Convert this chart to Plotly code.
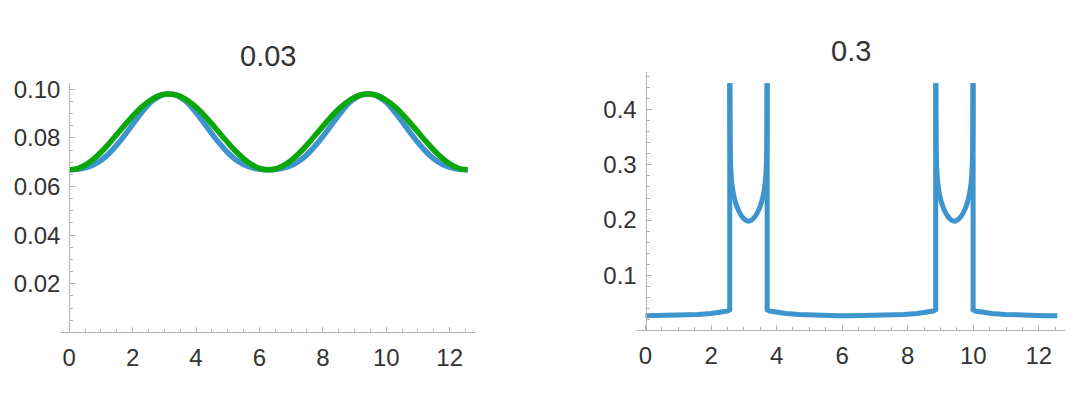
import plotly.graph_objects as go

# ---------------- data ----------------
# left panel "0.03": two periodic curves on [0, 4*pi]
x_left = [0.0, 0.262, 0.524, 0.785, 1.047, 1.309, 1.571, 1.833, 2.094, 2.356, 2.618, 2.880,
          3.142, 3.403, 3.665, 3.927, 4.189, 4.451, 4.712, 4.974, 5.236, 5.498, 5.760, 6.021,
          6.283, 6.545, 6.807, 7.069, 7.330, 7.592, 7.854, 8.116, 8.378, 8.639, 8.901, 9.163,
          9.425, 9.687, 9.948, 10.210, 10.472, 10.734, 10.996, 11.257, 11.519, 11.781, 12.043,
          12.305, 12.566]
blue_left = [0.0669, 0.0671, 0.0678, 0.0691, 0.0712, 0.0743, 0.0782, 0.0826, 0.0872, 0.0916, 0.0952, 0.0974,
             0.0981, 0.0974, 0.0952, 0.0916, 0.0872, 0.0826, 0.0782, 0.0743, 0.0712, 0.0691, 0.0678, 0.0671,
             0.0669, 0.0671, 0.0678, 0.0691, 0.0712, 0.0743, 0.0782, 0.0826, 0.0872, 0.0916, 0.0952, 0.0974,
             0.0981, 0.0974, 0.0952, 0.0916, 0.0872, 0.0826, 0.0782, 0.0743, 0.0712, 0.0691, 0.0678,
             0.0671, 0.0669]
green_left = [0.0669, 0.0674, 0.0690, 0.0715, 0.0747, 0.0785, 0.0825, 0.0865, 0.0903, 0.0935, 0.0960, 0.0976,
              0.0981, 0.0976, 0.0960, 0.0935, 0.0903, 0.0865, 0.0825, 0.0785, 0.0747, 0.0715, 0.0690, 0.0674,
              0.0669, 0.0674, 0.0690, 0.0715, 0.0747, 0.0785, 0.0825, 0.0865, 0.0903, 0.0935, 0.0960, 0.0976,
              0.0981, 0.0976, 0.0960, 0.0935, 0.0903, 0.0865, 0.0825, 0.0785, 0.0747, 0.0715, 0.0690,
              0.0674, 0.0669]

# right panel "0.3": outer branches + vertical jumps (clipped at plot top), None = break
x_right_outer = [0.0, 0.4, 0.8, 1.2, 1.6, 2.0, 2.3, 2.5, 2.570, 2.570, None,
                 3.712, 3.712, 3.783, 3.983, 4.283, 4.683, 5.083, 5.483, 5.883, 6.283, 6.683, 7.083,
                 7.483, 7.883, 8.283, 8.583, 8.783, 8.855, 8.855, None,
                 9.996, 9.996, 10.066, 10.266, 10.566, 10.966, 11.366, 11.766, 12.166, 12.566]
y_right_outer = [0.0266, 0.0267, 0.0271, 0.0278, 0.0290, 0.0308, 0.0330, 0.0352, 0.0375, 0.448, None,
                 0.448, 0.0375, 0.0352, 0.0330, 0.0308, 0.0290, 0.0278, 0.0271, 0.0267, 0.0266, 0.0267,
                 0.0271, 0.0278, 0.0290, 0.0308, 0.0330, 0.0352, 0.0375, 0.448, None,
                 0.448, 0.0375, 0.0352, 0.0330, 0.0308, 0.0290, 0.0278, 0.0271, 0.0267, 0.0266]
# right panel: inner U-shaped branches between the band edges
x_right_inner = [2.576, 2.580, 2.587, 2.602, 2.622, 2.652, 2.692, 2.742, 2.842, 2.942, 3.042, 3.142,
                 3.242, 3.342, 3.442, 3.542, 3.592, 3.632, 3.662, 3.682, 3.697, 3.704, 3.708, None,
                 8.860, 8.864, 8.871, 8.886, 8.906, 8.936, 8.976, 9.026, 9.126, 9.226, 9.326, 9.426,
                 9.526, 9.626, 9.726, 9.826, 9.876, 9.916, 9.946, 9.966, 9.981, 9.988, 9.992]
y_right_inner = [0.448, 0.380, 0.330, 0.295, 0.275, 0.259, 0.245, 0.233, 0.217, 0.2065, 0.2005, 0.198,
                 0.2005, 0.2065, 0.217, 0.233, 0.245, 0.259, 0.275, 0.295, 0.330, 0.380, 0.448, None,
                 0.448, 0.380, 0.330, 0.295, 0.275, 0.259, 0.245, 0.233, 0.217, 0.2065, 0.2005, 0.198,
                 0.2005, 0.2065, 0.217, 0.233, 0.245, 0.259, 0.275, 0.295, 0.330, 0.380, 0.448]

titles = ["0.03", "0.3"]
x_ticks = [0, 2, 4, 6, 8, 10, 12]
y_ticks_left = [0.02, 0.04, 0.06, 0.08, 0.10]
y_ticks_right = [0.1, 0.2, 0.3, 0.4]

# ---------------- styling ----------------
BLUE = "rgb(62,148,204)"
GREEN = "rgb(10,166,10)"
AXIS = "#b4b4b4"
TXT = "#333333"
FONT = "Liberation Sans, Arial, sans-serif"

fig = go.Figure()
fig.add_trace(go.Scatter(x=x_left, y=blue_left, mode="lines", line=dict(color=BLUE, width=5.5, shape="spline"),
                         xaxis="x", yaxis="y", showlegend=False, hoverinfo="skip"))
fig.add_trace(go.Scatter(x=x_left, y=green_left, mode="lines", line=dict(color=GREEN, width=5.5, shape="spline"),
                         xaxis="x", yaxis="y", showlegend=False, hoverinfo="skip"))
fig.add_trace(go.Scatter(x=x_right_outer, y=y_right_outer, mode="lines", line=dict(color=BLUE, width=5),
                         connectgaps=False, xaxis="x2", yaxis="y2", showlegend=False, hoverinfo="skip"))
fig.add_trace(go.Scatter(x=x_right_inner, y=y_right_inner, mode="lines",
                         line=dict(color=BLUE, width=5, shape="spline", smoothing=0.8),
                         connectgaps=False, xaxis="x2", yaxis="y2", showlegend=False, hoverinfo="skip"))

W, H = 1080, 400
xr = [-0.26, 12.8]
# pixel boxes of the two panels
L = dict(x0=61, x1=475, top=77, bot=331)
R = dict(x0=637, x1=1065, top=65, bot=329)


def zero_pos(p):
    return (p["x0"] + (0 - xr[0]) / (xr[1] - xr[0]) * (p["x1"] - p["x0"])) / W


common_x = dict(range=xr, showline=True, linecolor=AXIS, linewidth=1, ticks="inside", ticklen=5,
                tickcolor=AXIS, tickwidth=1, tickvals=x_ticks, showgrid=False, zeroline=False,
                tickfont=dict(size=24, color=TXT, family=FONT), ticklabelstandoff=4,
                minor=dict(dtick=0.5, tick0=0, ticks="inside", ticklen=3, tickcolor=AXIS, showgrid=False))
common_y = dict(showline=True, linecolor=AXIS, linewidth=1, ticks="inside", ticklen=5, tickcolor=AXIS,
                tickwidth=1, showgrid=False, zeroline=False, anchor="free",
                tickfont=dict(size=24, color=TXT, family=FONT), ticklabelstandoff=4)

fig.update_layout(
    width=W, height=H, margin=dict(l=0, r=0, t=0, b=0),
    paper_bgcolor="white", plot_bgcolor="white", showlegend=False,
    xaxis=dict(domain=[L["x0"] / W, L["x1"] / W], anchor="y", **common_x),
    yaxis=dict(domain=[(H - L["bot"]) / H, (H - L["top"]) / H], range=[0, 0.1024],
               tickvals=y_ticks_left, tickformat=".2f", position=zero_pos(L),
               minor=dict(dtick=0.005, tick0=0, ticks="inside", ticklen=3, tickcolor=AXIS, showgrid=False),
               **common_y),
    xaxis2=dict(domain=[R["x0"] / W, R["x1"] / W], anchor="y2", **common_x),
    yaxis2=dict(domain=[(H - R["bot"]) / H, (H - R["top"]) / H], range=[0, 0.469],
                tickvals=y_ticks_right, tickformat=".1f", position=zero_pos(R),
                minor=dict(dtick=0.02, tick0=0, ticks="inside", ticklen=3, tickcolor=AXIS, showgrid=False),
                **common_y),
    annotations=[
        dict(text=titles[0], x=(L["x0"] + L["x1"]) / 2 / W, y=(H - 49) / H, xref="paper", yref="paper",
             xanchor="center", yanchor="middle", showarrow=False, font=dict(size=29, color=TXT, family=FONT)),
        dict(text=titles[1], x=(R["x0"] + R["x1"]) / 2 / W, y=(H - 44) / H, xref="paper", yref="paper",
             xanchor="center", yanchor="middle", showarrow=False, font=dict(size=29, color=TXT, family=FONT)),
    ],
)

fig.write_html("out.html")
